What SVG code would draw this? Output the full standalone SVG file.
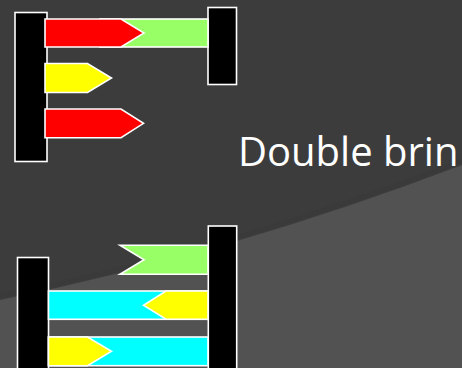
<svg xmlns="http://www.w3.org/2000/svg" width="462" height="368" viewBox="0 0 462 368">
<defs>
<style>
.s{stroke:#fff;stroke-width:1.6;stroke-linejoin:miter}
.bk{fill:#000}.rd{fill:#ff0000}.gn{fill:#99ff66}.yl{fill:#ffff00}.cy{fill:#00ffff}
.t{font-family:"Segoe UI","Open Sans","Noto Sans",sans-serif;font-size:40px;fill:#fff}
</style>
</defs>
<rect width="462" height="368" fill="#3c3c3c"/>
<path d="M0,300 Q231,253 462,165 L462,368 L0,368 Z" fill="#525252"/>
<path d="M0,296 Q231,249 462,161" fill="none" stroke="#383838" stroke-width="4" opacity="0.5"/>
<g id="connectors"></g>
<g id="top-left-bar"><rect class="s bk" x="15" y="12.5" width="32" height="149"/></g>
<g id="top-right-bar"><rect class="s bk" x="208" y="7.5" width="28.5" height="77"/></g>
<g id="green-top"><rect class="s gn" x="100" y="19" width="108" height="28"/></g>
<g id="red-top"><polygon class="s rd" points="45,19 121,19 144,33 121,47 45,47"/></g>
<g id="yellow-top"><polygon class="s yl" points="45,63.5 87.5,63.5 111.5,78 87.5,92.5 45,92.5"/></g>
<g id="red-bottom"><polygon class="s rd" points="45,109 121,109 143.5,123.3 121,137.7 45,137.7"/></g>
<g id="label"><text class="t" x="238" y="165.5">Double brin</text></g>
<g id="bottom-left-bar"><rect class="s bk" x="17.5" y="257.5" width="31" height="120"/></g>
<g id="bottom-right-bar"><rect class="s bk" x="208.3" y="226" width="28.4" height="150"/></g>
<g id="green-flag"><polygon class="s gn" points="120,245.3 208,245.3 208,274.3 120,274.3 144,259.8"/></g>
<g id="cyan-1"><rect class="s cy" x="48.5" y="291" width="159.5" height="28.3"/></g>
<g id="yellow-left"><polygon class="s yl" points="208,291 166,291 143.5,305.2 166,319.3 208,319.3"/></g>
<g id="cyan-2"><rect class="s cy" x="48.5" y="337" width="159.5" height="28.7"/></g>
<g id="yellow-right"><polygon class="s yl" points="48.5,337 87.5,337 111.5,351.3 87.5,365.7 48.5,365.7"/></g>
</svg>
